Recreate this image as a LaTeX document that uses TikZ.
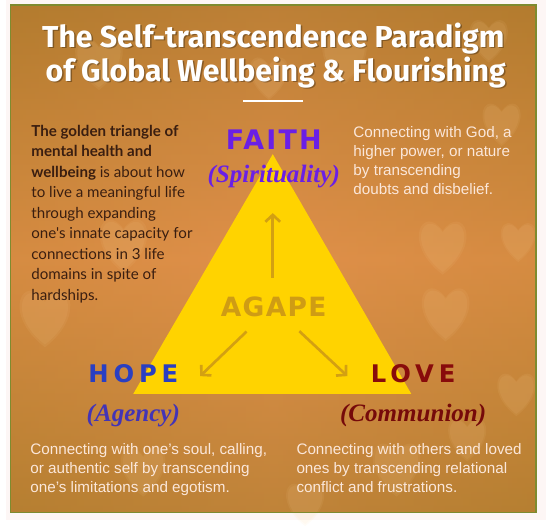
\documentclass[tikz,border=0pt]{standalone}
\usepackage{fontspec}
\setmainfont{Liberation Sans}
\newfontfamily\headfont{Fira Sans}
\newfontfamily\blurbfont{Lato}
\newfontfamily\heavyfont{DejaVu Sans}
\newfontfamily\italfont{Liberation Serif}
\usepackage{tikz}
\usetikzlibrary{calc, positioning, arrows.meta, shapes}

\definecolor{offwhite}{HTML}{FDF6F5}
\definecolor{paneltop}{HTML}{AE792E}
\definecolor{panelmid}{HTML}{E0904A}
\definecolor{panelbot}{HTML}{B27E32}
\definecolor{paneledge}{HTML}{BF822F}
\definecolor{panelline}{HTML}{7E8B2F}
\definecolor{heartglow}{HTML}{FCD59A}
\definecolor{goldtri}{HTML}{FFD300}
\definecolor{arrowgold}{HTML}{D3A012}
\definecolor{agapegold}{HTML}{CF9C14}
\definecolor{faithpurple}{HTML}{6A1FE6}
\definecolor{hopeblue}{HTML}{2A3FC2}
\definecolor{agencyblue}{HTML}{4334B6}
\definecolor{lovered}{HTML}{880B0B}
\definecolor{communred}{HTML}{760A0A}
\definecolor{creamtext}{HTML}{FBE7DA}
\definecolor{darktext}{HTML}{3A1E10}

\begin{document}
\begin{tikzpicture}[x=1pt, y=-1pt,
  headline/.style={inner sep=0pt, anchor=base, text=white, font=\headfont\bfseries\fontsize{30.8}{31}\selectfont},
  virtue/.style={inner sep=0pt, anchor=base, font=\heavyfont\bfseries\fontsize{24.7}{25}\selectfont\addfontfeature{LetterSpace=20}},
  realm/.style={inner sep=0pt, anchor=base, font=\italfont\bfseries\itshape\fontsize{25.5}{26}\selectfont},
  note/.style={inner sep=0pt, anchor=north west, align=left, text=creamtext, font=\fontsize{15.5}{19.3}\selectfont},
  pointer/.style={draw=arrowgold, line width=2.7pt, -{Straight Barb[length=7pt,width=15pt]}}]
% backdrop
\fill[offwhite] (0,0) rectangle (550,530);
\shade[top color=paneltop, bottom color=panelbot, middle color=panelmid] (5,5) rectangle (540,522);
\shade[left color=paneledge, right color=paneledge, middle color=panelmid, opacity=.3] (5,5) rectangle (540,522);
\foreach \hx/\hy/\hs in {95/62/30, 268/78/24, 345/58/28, 492/40/24, 505/125/24,
  445/250/30, 448/318/30, 522/245/22, 40/322/32, 120/248/30,
  140/478/28, 398/476/30, 470/446/24, 305/512/24, 520/400/24} {
  \foreach \hk in {1.1,1} {
  \fill[heartglow, opacity=.08] (\hx,\hy+0.9*\hs*\hk)
    .. controls (\hx-1.3*\hs*\hk,\hy-0.1*\hs*\hk) and (\hx-0.6*\hs*\hk,\hy-1.3*\hs*\hk) .. (\hx,\hy-0.45*\hs*\hk)
    .. controls (\hx+0.6*\hs*\hk,\hy-1.3*\hs*\hk) and (\hx+1.3*\hs*\hk,\hy-0.1*\hs*\hk) .. (\hx,\hy+0.9*\hs*\hk);
  }
}
\draw[panelline, line width=1.5pt] (5,5) rectangle (540,522);

% title
\node[headline, text=black, opacity=.3] (titleshadeA) at (274,49.5) {The Self-transcendence Paradigm};
\node[headline, text=black, opacity=.3] (titleshadeB) at (276.5,84.5) {of Global Wellbeing \& Flourishing};
\node[headline] (titleA) at (272.5,48) {The Self-transcendence Paradigm};
\node[headline] (titleB) at (275,83) {of Global Wellbeing \& Flourishing};
\draw[white, line width=2pt] (242,103) -- (303,103);

% golden triangle
\fill[goldtri] (272,157) -- (130,401) -- (413,401) -- cycle;

% the four words
\node[virtue, text=faithpurple, font=\heavyfont\bfseries\fontsize{27.4}{28}\selectfont\addfontfeature{LetterSpace=8}] (faith) at (273,152) {FAITH};
\node[realm, text=faithpurple] (spirit) at (273,186) {(Spirituality)};
\node[virtue, text=agapegold, font=\heavyfont\bfseries\fontsize{27}{28}\selectfont\addfontfeature{LetterSpace=5}] (agape) at (273,322) {AGAPE};
\node[virtue, text=hopeblue] (hope) at (130,389) {HOPE};
\node[realm, text=agencyblue] (agency) at (130,429) {(Agency)};
\node[virtue, text=lovered] (love) at (415,389) {LOVE};
\node[realm, text=communred] (commun) at (415,429) {(Communion)};

\coordinate (agapehub) at (272,312);
\coordinate (faithtip) at (272,217);
\coordinate (hopetip) at (198,383);
\coordinate (lovetip) at (348,383);
\draw[pointer, shorten <=29pt] (agapehub) -- (faithtip);
\draw[pointer, shorten <=37pt] (agapehub) -- (hopetip);
\draw[pointer, shorten <=37pt] (agapehub) -- (lovetip);

% side notes
\node[note, text=darktext, font=\blurbfont\fontsize{15.4}{20.9}\selectfont] (intro) at (26,127)
  {\textbf{The golden triangle of}\\ \textbf{mental health and}\\ \textbf{wellbeing} is about how\\
   to live a meaningful life\\ through expanding\\ one's innate capacity for\\
   connections in 3 life\\ domains in spite of\\ hardships.};
\node[note] (faithnote) at (354,128.4)
  {Connecting with God, a\\ higher power, or nature\\ by transcending\\ doubts and disbelief.};
\node[note] (hopenote) at (25,451.4)
  {Connecting with one's soul, calling,\\ or authentic self by transcending\\ one's limitations and egotism.};
\node[note] (lovenote) at (296,451.4)
  {Connecting with others and loved\\ ones by transcending relational\\ conflict and frustrations.};
\end{tikzpicture}
\end{document}
